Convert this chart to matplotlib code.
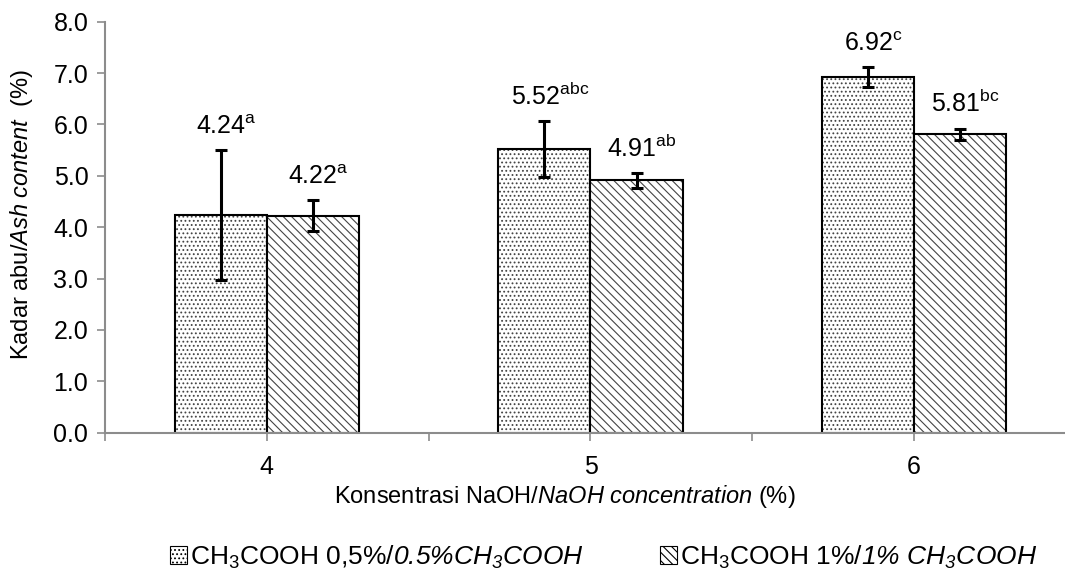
import matplotlib
matplotlib.use("Agg")
import matplotlib.pyplot as plt
from matplotlib.patches import Patch
import numpy as np

plt.rcParams['font.family'] = ['Liberation Sans', 'DejaVu Sans']
plt.rcParams['mathtext.fontset'] = 'custom'
plt.rcParams['mathtext.rm'] = 'Liberation Sans'
plt.rcParams['mathtext.it'] = 'Liberation Sans:italic'
plt.rcParams['mathtext.sf'] = 'Liberation Sans:italic'
plt.rcParams['mathtext.bf'] = 'Liberation Sans:bold'
plt.rcParams['hatch.linewidth'] = 0.8

# ---- data ----
categories = [4, 5, 6]
series_names = ["CH$_3$COOH 0,5%/$\\mathsf{0.5\\%CH_3COOH}$",
                 "CH$_3$COOH 1%/$\\mathsf{1\\%\\ CH_3COOH}$"]
means_05 = [4.24, 5.52, 6.92]
means_1 = [4.22, 4.91, 5.81]
err_05 = [1.27, 0.54, 0.20]
err_1 = [0.30, 0.14, 0.11]
letters_05 = ["a", "abc", "c"]
letters_1 = ["a", "ab", "bc"]
yticks = [0.0, 1.0, 2.0, 3.0, 4.0, 5.0, 6.0, 7.0, 8.0]

W, H = 1065, 574
fig = plt.figure(figsize=(W / 100, H / 100), dpi=100)
left, right, top, bottom = 105 / W, 1076 / W, 21.7 / H, 432.7 / H
ax = fig.add_axes([left, 1 - bottom, right - left, bottom - top])

x = np.array(categories, dtype=float)
bw = 0.285
gray = '#8c8c8c'
fs = 18

b1 = ax.bar(x - bw / 2, means_05, width=bw, color='white', edgecolor='black',
            linewidth=1.5, hatch='....', zorder=2)
b2 = ax.bar(x + bw / 2, means_1, width=bw, color='white', edgecolor='black',
            linewidth=1.5, hatch='\\\\\\\\', zorder=2)
for bars in (b1, b2):
    for p in bars:
        p._hatch_color = matplotlib.colors.to_rgba('#444444')

ax.errorbar(x - bw / 2, means_05, yerr=err_05, fmt='none', ecolor='black',
            elinewidth=2.2, capsize=4.5, capthick=2.2, zorder=3)
ax.errorbar(x + bw / 2, means_1, yerr=err_1, fmt='none', ecolor='black',
            elinewidth=2.2, capsize=4.5, capthick=2.2, zorder=3)

for xs, ms, es, ls in ((x - bw / 2, means_05, err_05, letters_05),
                       (x + bw / 2, means_1, err_1, letters_1)):
    for xi, m, e, l in zip(xs, ms, es, ls):
        ax.annotate(f"{m:.2f}$^{{\\mathrm{{{l}}}}}$", (xi, m + e),
                    xytext=(4, 8), textcoords='offset points',
                    ha='center', va='bottom', fontsize=fs, zorder=4)

ax.set_ylim(0, 8)
ax.set_xlim(3.5, 6.5)
ax.set_yticks(yticks)
ax.set_yticklabels([f"{v:.1f}" for v in yticks])
ax.set_xticks([3.5, 4, 4.5, 5, 5.5, 6, 6.5])
ax.set_xticklabels(["", "4", "", "5", "", "6", ""])
for s in ('top', 'right'):
    ax.spines[s].set_visible(False)
for s in ('left', 'bottom'):
    ax.spines[s].set_color(gray)
    ax.spines[s].set_linewidth(1.5)
ax.tick_params(axis='both', colors=gray, width=1.2, length=6, labelcolor='black',
               labelsize=fs)
ax.tick_params(axis='x', pad=10)
ax.tick_params(axis='y', pad=6)

fig.text(565 / W, 1 - 496 / H,
         "Konsentrasi NaOH/$\\it{NaOH\\ concentration}$ (%)",
         ha='center', va='center', fontsize=17)
fig.text(22 / W, 1 - 215 / H,
         "Kadar abu/$\\it{Ash\\ content}$  (%)",
         ha='center', va='center', rotation=90, fontsize=17)

handles = [Patch(facecolor='white', edgecolor='black', hatch='....', linewidth=0.8),
           Patch(facecolor='white', edgecolor='black', hatch='\\\\\\\\', linewidth=0.8)]
leg = fig.legend(handles, series_names, loc='center left',
                 bbox_to_anchor=(170 / W, 1 - 557 / H), ncol=2, frameon=False,
                 fontsize=19, handlelength=0.65, handleheight=0.65,
                 handletextpad=0.1, columnspacing=2.9, borderpad=0, borderaxespad=0)

fig.savefig("out.png", dpi=100)
